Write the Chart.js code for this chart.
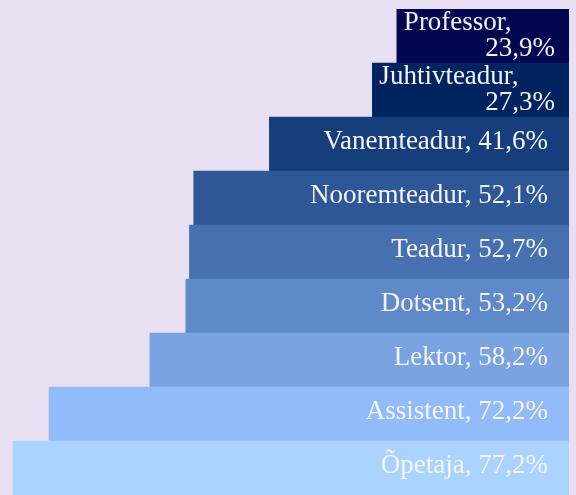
<!DOCTYPE html>
<html>
<head>
<meta charset="utf-8">
<script src="https://cdn.jsdelivr.net/npm/chart.js@4/dist/chart.umd.min.js"></script>
<style>
  html, body { margin: 0; padding: 0; background: #e8e0f2; }
  canvas { display: block; }
</style>
</head>
<body>
<canvas id="c" width="576" height="495"></canvas>
<script>
const categories = ['Professor', 'Juhtivteadur', 'Vanemteadur', 'Nooremteadur', 'Teadur', 'Dotsent', 'Lektor', 'Assistent', 'Õpetaja'];
const values = [23.9, 27.3, 41.6, 52.1, 52.7, 53.2, 58.2, 72.2, 77.2];
const barColors = ['#020750', '#01235f', '#173e7c', '#2d5796', '#4670b0', '#5f8ac9', '#7aa3e1', '#92bbfa', '#aad3fe'];

const FONT = '27px "Liberation Serif", "Times New Roman", serif';
const TEXT_COLOR = '#f6f4fb';

function fmt(v) { return v.toFixed(1).replace('.', ',') + '%'; }

const labelPlugin = {
  id: 'barLabels',
  afterDatasetsDraw(chart) {
    const ctx = chart.ctx;
    const meta = chart.getDatasetMeta(0);
    ctx.save();
    ctx.font = FONT;
    ctx.fillStyle = TEXT_COLOR;
    ctx.textBaseline = 'alphabetic';
    meta.data.forEach((el, i) => {
      const left = Math.min(el.x, el.base);
      const right = Math.max(el.x, el.base);
      const cy = el.y;
      const name = categories[i] + ',';
      const val = fmt(values[i]);
      const full = name + ' ' + val;
      const w = ctx.measureText(full).width;
      if (w > right - left - 16) {
        ctx.textAlign = 'left';
        ctx.fillText(name, left + 7, cy - 6);
        ctx.textAlign = 'right';
        ctx.fillText(val, right - 14, cy + 20);
      } else {
        ctx.textAlign = 'right';
        ctx.fillText(full, right - 21, cy + 5);
      }
    });
    ctx.restore();
  }
};

new Chart(document.getElementById('c'), {
  type: 'bar',
  data: {
    labels: categories,
    datasets: [{
      data: values,
      backgroundColor: barColors,
      borderWidth: 0,
      barPercentage: 1,
      categoryPercentage: 1
    }]
  },
  options: {
    indexAxis: 'y',
    responsive: false,
    animation: false,
    layout: { padding: { top: 9, right: 7, left: 0, bottom: 0 } },
    scales: {
      x: { display: false, min: 0, max: 79, reverse: true },
      y: { display: false }
    },
    plugins: {
      legend: { display: false },
      tooltip: { enabled: false }
    }
  },
  plugins: [labelPlugin]
});
</script>
</body>
</html>
